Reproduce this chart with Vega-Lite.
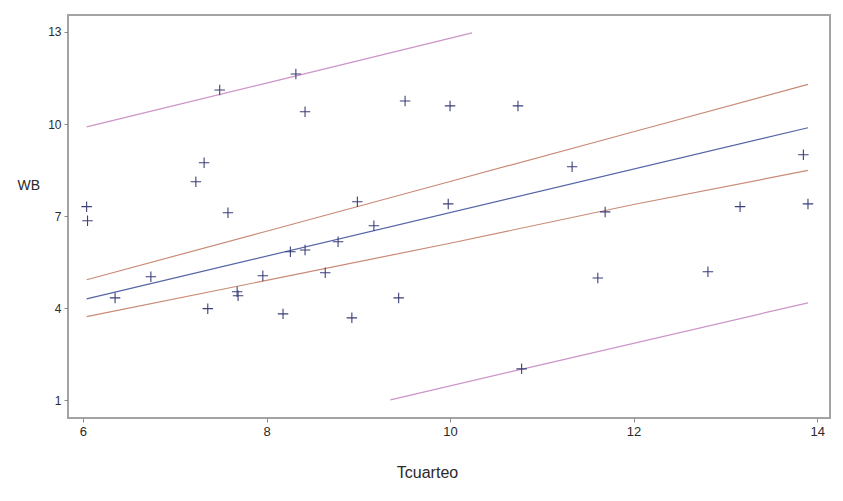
{
  "$schema": "https://vega.github.io/schema/vega-lite/v6.json",
  "width": 762,
  "height": 403,
  "autosize": {"type": "none"},
  "padding": {"left": 68, "top": 15, "right": 13, "bottom": 83},
  "background": "white",
  "config": {
    "view": {"stroke": "#a3a3a3", "strokeWidth": 2},
    "font": "Liberation Sans",
    "axis": {
      "grid": false,
      "domain": false,
      "tickColor": "#8a8a8a",
      "tickSize": 4,
      "labelColor": "#2a2a2a",
      "titleColor": "#2a2a2a",
      "titleFontWeight": "normal",
      "labelFont": "Liberation Sans",
      "titleFont": "Liberation Sans"
    }
  },
  "datasets": {
    "obs": [
      {"Tcuarteo": 6.04, "WB": 7.31},
      {"Tcuarteo": 6.05, "WB": 6.85},
      {"Tcuarteo": 6.35, "WB": 4.34},
      {"Tcuarteo": 6.74, "WB": 5.03},
      {"Tcuarteo": 7.23, "WB": 8.12},
      {"Tcuarteo": 7.32, "WB": 8.74},
      {"Tcuarteo": 7.36, "WB": 3.99},
      {"Tcuarteo": 7.49, "WB": 11.11},
      {"Tcuarteo": 7.58, "WB": 7.11},
      {"Tcuarteo": 7.68, "WB": 4.54},
      {"Tcuarteo": 7.69, "WB": 4.41},
      {"Tcuarteo": 7.96, "WB": 5.06},
      {"Tcuarteo": 8.18, "WB": 3.82},
      {"Tcuarteo": 8.26, "WB": 5.84},
      {"Tcuarteo": 8.32, "WB": 11.63},
      {"Tcuarteo": 8.42, "WB": 5.9},
      {"Tcuarteo": 8.42, "WB": 10.4},
      {"Tcuarteo": 8.64, "WB": 5.16},
      {"Tcuarteo": 8.78, "WB": 6.17},
      {"Tcuarteo": 8.93, "WB": 3.69},
      {"Tcuarteo": 8.99, "WB": 7.47},
      {"Tcuarteo": 9.17, "WB": 6.69},
      {"Tcuarteo": 9.44, "WB": 4.34},
      {"Tcuarteo": 9.51, "WB": 10.75},
      {"Tcuarteo": 9.98, "WB": 7.4},
      {"Tcuarteo": 10.0, "WB": 10.59},
      {"Tcuarteo": 10.74, "WB": 10.59},
      {"Tcuarteo": 10.78, "WB": 2.03},
      {"Tcuarteo": 11.33, "WB": 8.61},
      {"Tcuarteo": 11.61, "WB": 4.99},
      {"Tcuarteo": 11.69, "WB": 7.14},
      {"Tcuarteo": 12.81, "WB": 5.19},
      {"Tcuarteo": 13.16, "WB": 7.31},
      {"Tcuarteo": 13.85, "WB": 9.0},
      {"Tcuarteo": 13.9, "WB": 7.4}
    ],
    "lines": [
      {"series": "fit", "Tcuarteo": 6.04, "WB": 4.31},
      {"series": "fit", "Tcuarteo": 13.9, "WB": 9.88},
      {"series": "ucl", "Tcuarteo": 6.04, "WB": 4.93},
      {"series": "ucl", "Tcuarteo": 8.0, "WB": 6.51},
      {"series": "ucl", "Tcuarteo": 10.0, "WB": 8.13},
      {"series": "ucl", "Tcuarteo": 12.0, "WB": 9.75},
      {"series": "ucl", "Tcuarteo": 13.9, "WB": 11.29},
      {"series": "lcl", "Tcuarteo": 6.04, "WB": 3.73},
      {"series": "lcl", "Tcuarteo": 8.0, "WB": 4.91},
      {"series": "lcl", "Tcuarteo": 10.0, "WB": 6.12},
      {"series": "lcl", "Tcuarteo": 12.0, "WB": 7.38},
      {"series": "lcl", "Tcuarteo": 13.9, "WB": 8.49},
      {"series": "upl", "Tcuarteo": 6.04, "WB": 9.91},
      {"series": "upl", "Tcuarteo": 8.0, "WB": 11.33},
      {"series": "upl", "Tcuarteo": 10.24, "WB": 12.97},
      {"series": "lpl", "Tcuarteo": 9.35, "WB": 1.02},
      {"series": "lpl", "Tcuarteo": 11.0, "WB": 2.17},
      {"series": "lpl", "Tcuarteo": 13.9, "WB": 4.18}
    ]
  },
  "encoding": {
    "x": {
      "field": "Tcuarteo",
      "type": "quantitative",
      "scale": {"domain": [5.837, 14.14], "nice": false, "zero": false},
      "axis": {
        "values": [6, 8, 10, 12, 14],
        "labelFontSize": 13,
        "labelPadding": 3,
        "title": "Tcuarteo",
        "titleFontSize": 16,
        "titleX": 359,
        "titleY": 54,
        "titleAlign": "center",
        "titleBaseline": "middle"
      }
    },
    "y": {
      "field": "WB",
      "type": "quantitative",
      "scale": {"domain": [0.43, 13.55], "nice": false, "zero": false},
      "axis": {
        "values": [1, 4, 7, 10, 13],
        "labelFontSize": 12,
        "labelPadding": 3,
        "title": "WB",
        "titleFontSize": 14,
        "titleAngle": 0,
        "titleX": -51,
        "titleY": 170,
        "titleAlign": "left",
        "titleBaseline": "middle"
      }
    }
  },
  "layer": [
    {
      "data": {"name": "lines"},
      "mark": {"type": "line", "strokeWidth": 1.2},
      "encoding": {
        "detail": {"field": "series"},
        "color": {
          "field": "series",
          "type": "nominal",
          "scale": {
            "domain": ["fit", "ucl", "lcl", "upl", "lpl"],
            "range": ["#5564a6", "#c98a76", "#c98a76", "#cc94c8", "#cc94c8"]
          },
          "legend": null
        }
      }
    },
    {
      "data": {"name": "obs"},
      "mark": {
        "type": "point",
        "shape": "M-1,0L1,0M0,-1L0,1",
        "size": 110,
        "filled": false,
        "stroke": "#3c3f78",
        "strokeWidth": 1.1,
        "opacity": 1
      }
    }
  ]
}
